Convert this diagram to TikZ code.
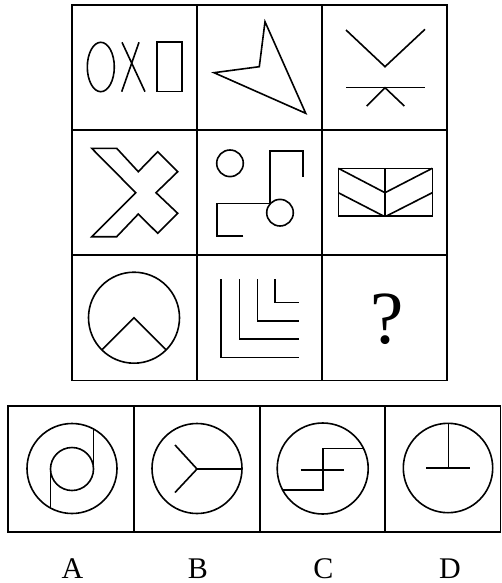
\documentclass[tikz,border=0pt]{standalone}
\usepackage{fontspec}
\setmainfont{Liberation Serif}
\begin{document}
\begin{tikzpicture}[x=1pt,y=-1pt,
  frame/.style={line width=1.9pt},
  fig/.style={line width=1.6pt, line join=miter, line cap=butt},
  lab/.style={anchor=base, inner sep=0pt, font=\fontsize{30}{30}\selectfont}]
\useasboundingbox (0,0) rectangle (502,583);
% ---------- main 3x3 grid ----------
\draw[frame] (72,5) rectangle (447,380.5);
\draw[frame] (197,5) -- (197,380.5) (322,5) -- (322,380.5);
\draw[frame] (72,130) -- (447,130) (72,255) -- (447,255);
% cell 1
\draw[fig] (100.8,67) ellipse [x radius=13.5pt, y radius=24.7pt];
\draw[fig] (122,42.3) -- (145,91.7) (139,42.3) -- (121.7,91.7);
\draw[fig] (156.7,42.3) rectangle (181.7,91.7);
% cell 2
\draw[fig] (265,21.7) -- (305.7,113.3) -- (214,72.7) -- (259.3,66.7) -- cycle;
% cell 3
\draw[fig] (346,30) -- (385,66.7) -- (425,29.3);
\draw[fig] (346,87.7) -- (425,87.7);
\draw[fig] (366.7,106) -- (385,87.7) -- (404.3,106);
% cell 4
\draw[fig] (91.7,148.3) -- (116.7,148.3) -- (138.3,171.7) -- (157.7,151.7) -- (177.7,171.7)
  -- (156,192.7) -- (177.7,213.3) -- (157.7,233.3) -- (138.3,214) -- (116.7,236.7)
  -- (91.7,236.7) -- (135.7,192.7) -- cycle;
% cell 5
\draw[fig] (230,163.3) circle [radius=13.3pt];
\draw[fig] (280,212.7) circle [radius=13.3pt];
\draw[fig] (270,203.4) -- (270,150.7) -- (302.7,150.7) -- (302.7,176.7);
\draw[fig] (243.3,236) -- (216.7,236) -- (216.7,203.4) -- (270,203.4);
% cell 6
\draw[fig] (338.3,168.3) rectangle (432.3,216);
\draw[fig] (385,168.3) -- (385,216);
\draw[fig] (338.3,168.3) -- (385,192.7) -- (432.3,168.3);
\draw[fig] (338.3,192.7) -- (383.5,216) (432.3,192.7) -- (386.5,216);
% cell 7
\draw[fig] (134,317.7) circle [radius=45.5pt];
\draw[fig] (101.8,349.9) -- (134,317.7) -- (166.2,349.9);
% cell 8
\draw[fig] (221,279.3) -- (221,357.3) -- (298.7,357.3);
\draw[fig] (239.3,279.3) -- (239.3,339) -- (298.7,339);
\draw[fig] (257.3,279.3) -- (257.3,321) -- (298.7,321);
\draw[fig] (275,279.3) -- (275,302.3) -- (298.7,302.3);
% cell 9
\node[anchor=base, inner sep=0pt, font=\fontsize{75}{75}\selectfont] (q) at (386.7,343.3) {?};
% ---------- options ----------
\draw[frame] (8,406) rectangle (500.5,532);
\draw[frame] (134,406) -- (134,532) (260,406) -- (260,532) (385,406) -- (385,532);
% A
\draw[fig] (72,468.5) circle [radius=45pt];
\draw[fig] (72,469) circle [radius=21.5pt];
\draw[fig] (50.5,469) -- (50.5,508);
\draw[fig] (93.5,469) -- (93.5,429);
% B
\draw[fig] (197,468.5) circle [radius=45pt];
\draw[fig] (197,469) -- (242,469);
\draw[fig] (175,445) -- (197,469) -- (175,492.5);
% C
\draw[fig] (322.7,468.5) circle [radius=45.5pt];
\draw[fig] (282.6,490) -- (322.7,490) -- (322.7,448.3) -- (363.5,448.3);
\draw[fig] (300.7,470) -- (344.3,470);
% D
\draw[fig] (448,468) circle [radius=44.7pt];
\draw[fig] (448.5,423.3) -- (448.5,467.7);
\draw[fig] (426,467.7) -- (470,467.7);
% labels
\node[lab] (la) at (72.5,578) {A};
\node[lab] (lb) at (198,578) {B};
\node[lab] (lc) at (323.3,578) {C};
\node[lab] (ld) at (450,578) {D};
\end{tikzpicture}
\end{document}
